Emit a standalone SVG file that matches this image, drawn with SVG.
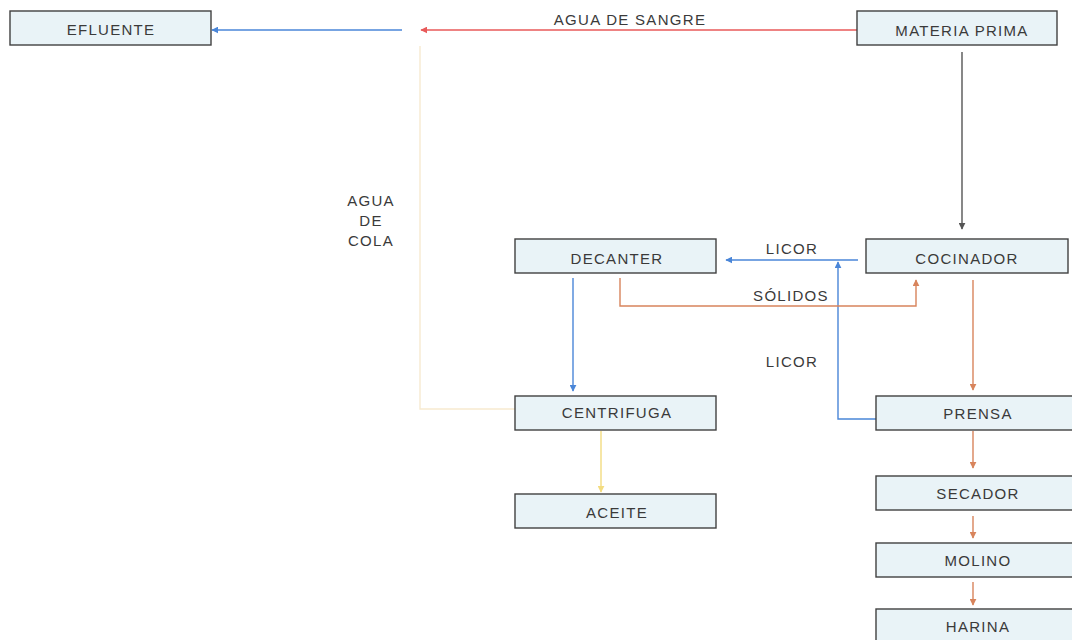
<svg xmlns="http://www.w3.org/2000/svg" width="1072" height="640" viewBox="0 0 1072 640">
<style>
.box{fill:#e9f3f7;stroke:#404040;stroke-width:1.4}
.t{font-family:"Liberation Sans",Arial,sans-serif;font-size:15px;fill:#3a3a3a;text-anchor:middle;letter-spacing:1.3px}
.c{fill:none;stroke-width:1.4}
</style>
<defs>
<marker id="ab" viewBox="0 0 10 10" refX="9" refY="5" markerWidth="7" markerHeight="7" orient="auto-start-reverse" markerUnits="userSpaceOnUse"><path d="M0,0L10,5L0,10z" fill="#4a86d8"/></marker>
<marker id="ar" viewBox="0 0 10 10" refX="9" refY="5" markerWidth="7" markerHeight="7" orient="auto-start-reverse" markerUnits="userSpaceOnUse"><path d="M0,0L10,5L0,10z" fill="#e85a5a"/></marker>
<marker id="ao" viewBox="0 0 10 10" refX="9" refY="5" markerWidth="7" markerHeight="7" orient="auto-start-reverse" markerUnits="userSpaceOnUse"><path d="M0,0L10,5L0,10z" fill="#d8845c"/></marker>
<marker id="ay" viewBox="0 0 10 10" refX="9" refY="5" markerWidth="7" markerHeight="7" orient="auto-start-reverse" markerUnits="userSpaceOnUse"><path d="M0,0L10,5L0,10z" fill="#f3dc80"/></marker>
<marker id="ad" viewBox="0 0 10 10" refX="9" refY="5" markerWidth="7" markerHeight="7" orient="auto-start-reverse" markerUnits="userSpaceOnUse"><path d="M0,0L10,5L0,10z" fill="#555"/></marker>
</defs>
<rect width="1072" height="640" fill="#fff"/>
<g id="connectors">
<path class="c" d="M857,30H421" stroke="#e85a5a" marker-end="url(#ar)"/>
<path class="c" d="M402,30H212" stroke="#4a86d8" marker-end="url(#ab)"/>
<path class="c" d="M515,409H420V46" stroke="#f7ead0" stroke-width="1.2"/>
<path class="c" d="M962,52V229" stroke="#555" marker-end="url(#ad)"/>
<path class="c" d="M858,260H726" stroke="#4a86d8" marker-end="url(#ab)"/>
<path class="c" d="M876,419H838V262" stroke="#4a86d8" marker-end="url(#ab)"/>
<path class="c" d="M620,278V306H916V280" stroke="#d8845c" marker-end="url(#ao)"/>
<path class="c" d="M573,278V391" stroke="#4a86d8" stroke-width="2" marker-end="url(#ab)"/>
<path class="c" d="M601,431V492" stroke="#f3dc80" marker-end="url(#ay)"/>
<path class="c" d="M973,280V390" stroke="#d8845c" marker-end="url(#ao)"/>
<path class="c" d="M973,431V468" stroke="#d8845c" marker-end="url(#ao)"/>
<path class="c" d="M973,516V538" stroke="#d8845c" marker-end="url(#ao)"/>
<path class="c" d="M973,582V605" stroke="#d8845c" marker-end="url(#ao)"/>
<text class="t" x="630" y="25">AGUA DE SANGRE</text>
<text class="t" x="371" y="206">AGUA</text>
<text class="t" x="371" y="226">DE</text>
<text class="t" x="371" y="246">COLA</text>
<text class="t" x="792" y="254">LICOR</text>
<text class="t" x="791" y="301">SÓLIDOS</text>
<text class="t" x="792" y="367">LICOR</text>
</g>
<g id="efluente"><rect class="box" x="10" y="11" width="201" height="34"/><text class="t" x="111" y="35">EFLUENTE</text></g>
<g id="materia-prima"><rect class="box" x="857" y="11" width="200" height="34"/><text class="t" x="962" y="36">MATERIA PRIMA</text></g>
<g id="decanter"><rect class="box" x="515" y="239" width="201" height="34"/><text class="t" x="617" y="264">DECANTER</text></g>
<g id="cocinador"><rect class="box" x="866" y="239" width="202" height="34"/><text class="t" x="967" y="264">COCINADOR</text></g>
<g id="centrifuga"><rect class="box" x="515" y="396" width="201" height="34"/><text class="t" x="617" y="418">CENTRIFUGA</text></g>
<g id="aceite"><rect class="box" x="515" y="494" width="201" height="34"/><text class="t" x="617" y="518">ACEITE</text></g>
<g id="prensa"><rect class="box" x="876" y="396" width="202" height="34"/><text class="t" x="978" y="419">PRENSA</text></g>
<g id="secador"><rect class="box" x="876" y="476" width="202" height="34"/><text class="t" x="978" y="499">SECADOR</text></g>
<g id="molino"><rect class="box" x="876" y="543" width="202" height="34"/><text class="t" x="978" y="566">MOLINO</text></g>
<g id="harina"><rect class="box" x="876" y="609" width="202" height="40"/><text class="t" x="978" y="632">HARINA</text></g>
</svg>
